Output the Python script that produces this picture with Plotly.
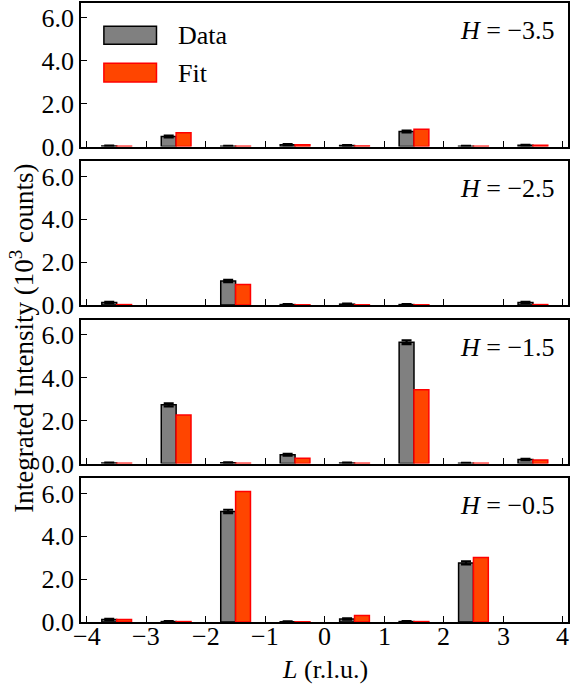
import plotly.graph_objects as go

# ---- data ----
L_centers = [-3.5, -2.5, -1.5, -0.5, 0.5, 1.5, 2.5, 3.5]
H_labels = ["−3.5", "−2.5", "−1.5", "−0.5"]

data_h35 = [0.02, 0.47, 0.01, 0.08, 0.05, 0.70, 0.01, 0.06]
fit_h35 = [0.01, 0.64, 0.01, 0.08, 0.02, 0.81, 0.01, 0.06]
err_h35 = [0.02, 0.04, 0.02, 0.03, 0.02, 0.04, 0.02, 0.02]

data_h25 = [0.12, None, 1.12, 0.02, 0.04, 0.02, None, 0.12]
fit_h25 = [0.02, None, 0.96, 0.01, 0.01, 0.01, None, 0.02]
err_h25 = [0.03, 0, 0.05, 0.02, 0.02, 0.02, 0, 0.03]

data_h15 = [0.02, 2.74, 0.03, 0.41, 0.02, 5.66, 0.01, 0.19]
fit_h15 = [0.01, 2.27, 0.01, 0.25, 0.01, 3.44, 0.01, 0.16]
err_h15 = [0.02, 0.07, 0.02, 0.04, 0.02, 0.09, 0.02, 0.03]

data_h05 = [0.12, 0.02, 5.16, 0.01, 0.14, 0.02, 2.76, None]
fit_h05 = [0.12, 0.02, 6.09, 0.01, 0.30, 0.02, 3.01, None]
err_h05 = [0.03, 0.02, 0.08, 0.02, 0.03, 0.02, 0.07, 0]

panels = [
    (data_h35, fit_h35, err_h35),
    (data_h25, fit_h25, err_h25),
    (data_h15, fit_h15, err_h15),
    (data_h05, fit_h05, err_h05),
]

x_ticks = [-4, -3, -2, -1, 0, 1, 2, 3, 4]
x_ticklabels = ["−4", "−3", "−2", "−1", "0", "1", "2", "3", "4"]
y_ticks = [0, 2, 4, 6]
y_ticklabels = ["0.0", "2.0", "4.0", "6.0"]

FONT = "Liberation Serif"
FS = 26
DATA_FILL = "#808080"
FIT_FILL = "#FF4500"
FIT_EDGE = "#FF0000"

# ---- layout geometry ----
W, Hh = 571, 685
ml, mr, mt, mb = 81, 1, 2, 63
plot_h = Hh - mt - mb
gap = 15
ph = (plot_h - 3 * gap) / 4

fig = go.Figure()
layout = dict(
    width=W, height=Hh,
    margin=dict(l=ml, r=mr, t=mt, b=mb),
    paper_bgcolor="white", plot_bgcolor="white",
    font=dict(family=FONT, size=FS, color="black"),
    showlegend=False,
    barmode="group", bargap=0.5, bargroupgap=0.0,
)

annotations = []
shapes = []
for i, (d, f, e) in enumerate(panels):
    n = i + 1
    xa = "x" if n == 1 else f"x{n}"
    ya = "y" if n == 1 else f"y{n}"
    fig.add_trace(go.Bar(
        x=L_centers, y=d, xaxis=xa, yaxis=ya, name="Data",
        marker=dict(color=DATA_FILL, line=dict(color="black", width=1.5)),
        error_y=dict(type="data", array=e, visible=True, color="black", thickness=2.2, width=5),
        offsetgroup="data",
    ))
    fig.add_trace(go.Bar(
        x=L_centers, y=f, xaxis=xa, yaxis=ya, name="Fit",
        marker=dict(color=FIT_FILL, line=dict(color=FIT_EDGE, width=1.5)),
        offsetgroup="fit",
    ))
    top = i * (ph + gap)
    bot = top + ph
    dom = [1 - bot / plot_h, 1 - top / plot_h]
    xkey = "xaxis" if n == 1 else f"xaxis{n}"
    ykey = "yaxis" if n == 1 else f"yaxis{n}"
    layout[xkey] = dict(
        domain=[0, 1], anchor=ya, range=[-4.1, 4.09],
        tickmode="array", tickvals=x_ticks, ticktext=x_ticklabels,
        showticklabels=False,
        ticks="inside", ticklen=6, tickwidth=1.3, tickcolor="black",
        showline=True, linecolor="black", linewidth=1.5, mirror=True,
        showgrid=False, zeroline=False,
    )
    if n != 1:
        layout[xkey]["matches"] = "x"
    layout[ykey] = dict(
        domain=dom, anchor=xa, range=[0, 6.7],
        tickmode="array", tickvals=y_ticks, ticktext=y_ticklabels,
        ticks="inside", ticklen=6, tickwidth=1.3, tickcolor="black",
        showline=True, linecolor="black", linewidth=1.5, mirror=True,
        showgrid=False, zeroline=False,
        tickfont=dict(family=FONT, size=FS),
    )
    xdom = "x domain" if n == 1 else f"x{n} domain"
    ydom = "y domain" if n == 1 else f"y{n} domain"
    annotations.append(dict(
        text=f"<i>H</i> = {H_labels[i]}", xref=xdom, yref=ydom,
        x=0.977, y=0.81, xanchor="right", yanchor="middle",
        showarrow=False, font=dict(family=FONT, size=FS),
    ))

# x tick labels of the bottom panel
for tv, tt in zip(x_ticks, x_ticklabels):
    annotations.append(dict(
        text=tt, xref="x4", yref="y4 domain", x=tv, y=0,
        xanchor="center", yanchor="middle", yshift=-14,
        showarrow=False, font=dict(family=FONT, size=FS),
    ))

# legend (drawn in panel 1)
legend_items = [("Data", DATA_FILL, "black", 0.838, 0.713), ("Fit", FIT_FILL, FIT_EDGE, 0.581, 0.450)]
for label, fill, edge, y1, y0 in legend_items:
    shapes.append(dict(type="rect", xref="x domain", yref="y domain",
                       x0=0.047, x1=0.155, y0=y0, y1=y1,
                       fillcolor=fill, line=dict(color=edge, width=1.5)))
    annotations.append(dict(text=label, xref="x domain", yref="y domain",
                            x=0.196, y=(y0 + y1) / 2 - 0.005, xanchor="left", yanchor="middle",
                            showarrow=False, font=dict(family=FONT, size=FS)))

# axis titles
annotations.append(dict(
    text="Integrated Intensity (10<sup>3</sup> counts)", xref="paper", yref="paper",
    x=(22 - ml) / (W - ml - mr), y=(mt + plot_h - 338) / plot_h,
    xanchor="center", yanchor="middle", textangle=-90, showarrow=False,
    font=dict(family=FONT, size=27),
))
annotations.append(dict(
    text="<i>L</i> (r.l.u.)", xref="paper", yref="paper",
    x=(326 - ml) / (W - ml - mr), y=(mt + plot_h - 670) / plot_h,
    xanchor="center", yanchor="middle", showarrow=False,
    font=dict(family=FONT, size=FS),
))

layout["annotations"] = annotations
layout["shapes"] = shapes
fig.update_layout(**layout)
fig.write_html("out.html")
